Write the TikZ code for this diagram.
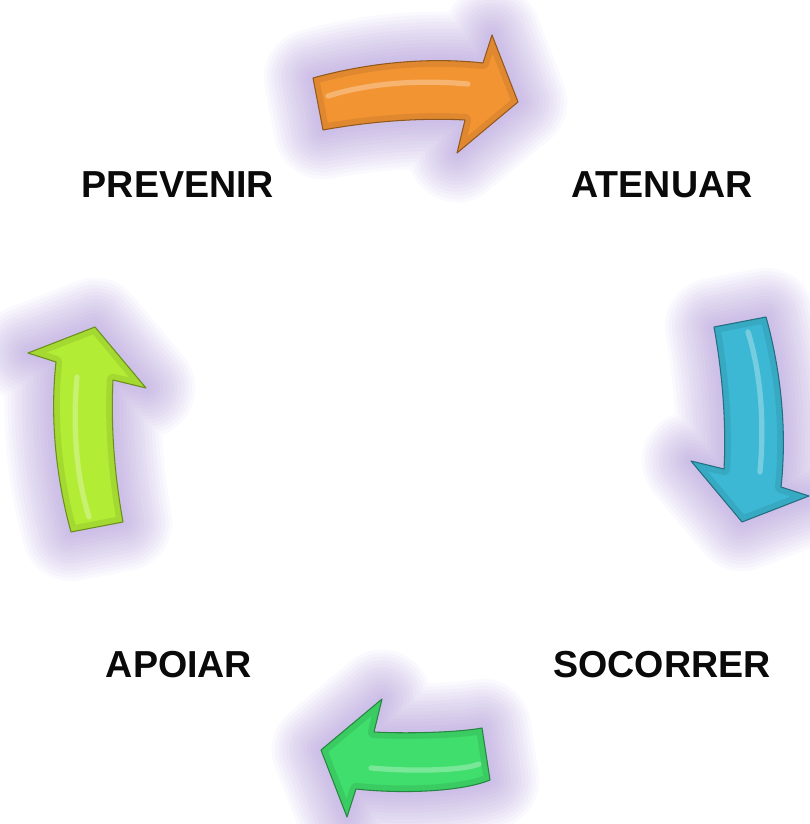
\documentclass[tikz,border=0pt]{standalone}
\usepackage{fontspec}
\setmainfont{Liberation Sans}
\usepackage{xcolor}
\definecolor{Ink}{HTML}{0A0A0A}
\definecolor{Glow}{HTML}{A98BD8}
\definecolor{ArrOrange}{HTML}{F39433}
\definecolor{ArrBlue}{HTML}{3CB8D4}
\definecolor{ArrGreen}{HTML}{40DE6C}
\definecolor{ArrLime}{HTML}{B2EC34}

% one curved arrow: #1 centre, #2 rotation, #3 colour, #4 tail top, #5 tail bottom, #6 highlight start
\newcommand{\cyclearrow}[6]{%
\begin{scope}[shift={(#1)},rotate=#2]
\foreach \gw in {56,52,...,4}
  \draw[Glow,opacity=0.05,line width=\gw pt,line join=round] (#4) .. controls (-40,40) and (20,42) .. (65,37) -- (74,65) -- (100,-2) -- (39,-53) -- (47,-20) .. controls (10,-18) and (-40,-20) .. (#5) -- cycle;
\fill[#3] (#4) .. controls (-40,40) and (20,42) .. (65,37) -- (74,65) -- (100,-2) -- (39,-53) -- (47,-20) .. controls (10,-18) and (-40,-20) .. (#5) -- cycle;
\begin{scope}
\clip (#4) .. controls (-40,40) and (20,42) .. (65,37) -- (74,65) -- (100,-2) -- (39,-53) -- (47,-20) .. controls (10,-18) and (-40,-20) .. (#5) -- cycle;
\draw[#3!80!black,opacity=0.4,line width=7pt,line join=round] (#4) .. controls (-40,40) and (20,42) .. (65,37) -- (74,65) -- (100,-2) -- (39,-53) -- (47,-20) .. controls (10,-18) and (-40,-20) .. (#5) -- cycle;
\end{scope}
\draw[white,opacity=0.3,line width=3pt,line cap=round] (#6) .. controls (-45,18) and (5,20) .. (50,16);
\draw[#3!60!black,line width=0.6pt,line join=round] (#4) .. controls (-40,40) and (20,42) .. (65,37) -- (74,65) -- (100,-2) -- (39,-53) -- (47,-20) .. controls (10,-18) and (-40,-20) .. (#5) -- cycle;
\end{scope}}

\begin{document}
\begin{tikzpicture}[x=0.02cm,y=0.02cm,
  cyclelabel/.style={font=\fontsize{21.4}{24}\selectfont\bfseries,text=Ink,inner sep=0pt}]
\useasboundingbox (0,0) rectangle (810,824);
\fill[white] (0,0) rectangle (810,824);

\node[cyclelabel] (prevenir) at (178,639) {PREVENIR};
\node[cyclelabel] (atenuar) at (662,639) {ATENUAR};
\node[cyclelabel] (socorrer) at (662,159) {SOCORRER};
\node[cyclelabel] (apoiar) at (179,159) {APOIAR};

\cyclearrow{418,724}{0}{ArrOrange}{-105,22}{-95,-30}{-90,4}
\cyclearrow{744,402}{-90}{ArrBlue}{-105,22}{-95,-30}{-90,4}
\cyclearrow{421,72}{180}{ArrGreen}{-69,28}{-61,-24}{-58,12}
\cyclearrow{93,397}{90}{ArrLime}{-105,22}{-95,-30}{-90,4}
\end{tikzpicture}
\end{document}
